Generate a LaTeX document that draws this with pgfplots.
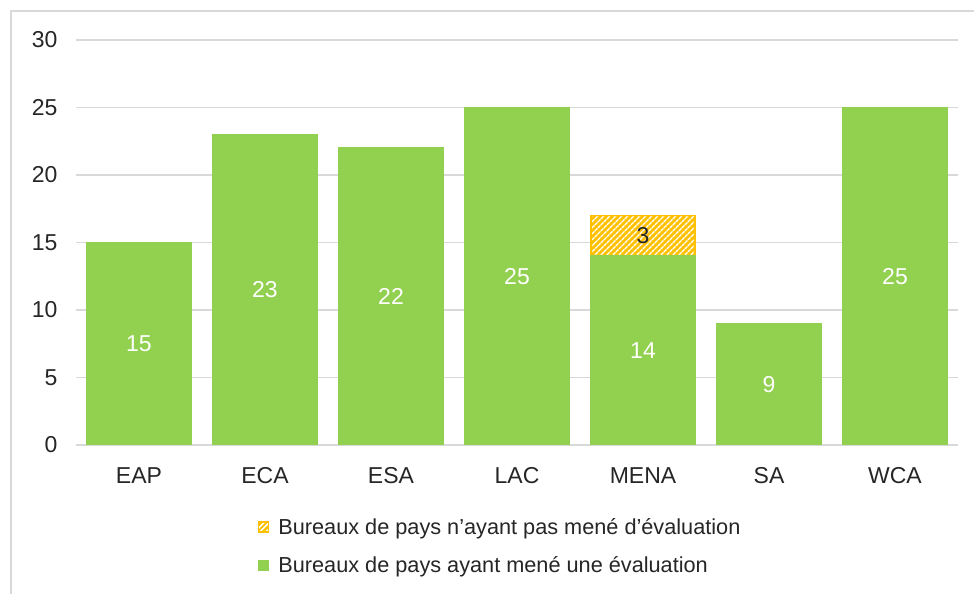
\documentclass[border=0pt]{standalone}
\usepackage{fontspec}
\setmainfont{Liberation Sans}
\usepackage{pgfplots}
\pgfplotsset{compat=1.18}
\usetikzlibrary{patterns.meta}
\definecolor{bargreen}{HTML}{92D050}
\definecolor{barorange}{HTML}{FFC000}
\definecolor{gridgray}{HTML}{D9D9D9}
\definecolor{txt}{HTML}{262626}

\begin{document}
\begin{tikzpicture}
\useasboundingbox (0,0) rectangle (974pt,594pt);
% chart frame (only top and left edges visible)
\draw[gridgray, line width=2.5pt] (11pt,-5pt) -- (11pt,583pt) -- (980pt,583pt);
\begin{axis}[
  at={(76pt,149pt)}, anchor=south west,
  scale only axis, width=882pt, height=405pt,
  xmin=-0.5, xmax=6.5, ymin=0, ymax=30,
  xtick={0,...,6},
  xticklabels={EAP,ECA,ESA,LAC,MENA,SA,WCA},
  ytick={0,5,...,30},
  major tick length=0pt,
  axis line style={draw=none},
  ymajorgrids,
  grid style={gridgray, line width=1.5pt},
  /pgf/number format/assume math mode=true,
  tick label style={font=\fontsize{23}{27}\selectfont, text=txt},
  yticklabel style={xshift=-15pt},
  xticklabel style={yshift=-19pt},
  legend style={at={(0.206,-0.175)}, anchor=north west, draw=none,
    font=\fontsize{21.7}{25}\selectfont, text=txt, row sep=17pt,
    legend cell align=left, inner sep=0pt,
    /tikz/every odd column/.append style={column sep=7pt}},
  legend image code/.code={\draw[#1] (0pt,-5pt) rectangle (10pt,5pt);},
]
\addplot[ybar, bar width=104pt, bar shift=0pt, fill=barorange, draw=barorange, line width=1.5pt,
  postaction={pattern={Lines[angle=45,distance=4pt,line width=1.6pt]}, pattern color=white},
  nodes near coords={3}, nodes near coords align={center},
  every node near coord/.append style={font=\fontsize{23}{27}\selectfont, text=txt,
    shift={(axis direction cs:0,-1.5)}}]
  coordinates {(4,17)};
\addplot[ybar, bar width=104pt, bar shift=0pt, fill=bargreen, draw=bargreen, line width=1.5pt,
  visualization depends on=y \as \rawy,
  nodes near coords, nodes near coords align={center},
  every node near coord/.append style={font=\fontsize{23}{27}\selectfont, text=white,
    shift={(axis direction cs:0,-\rawy/2)}}]
  coordinates {(0,15) (1,23) (2,22) (3,25) (4,14) (5,9) (6,25)};
\legend{Bureaux de pays n’ayant pas mené d’évaluation,Bureaux de pays ayant mené une évaluation}
\end{axis}
\end{tikzpicture}
\end{document}
